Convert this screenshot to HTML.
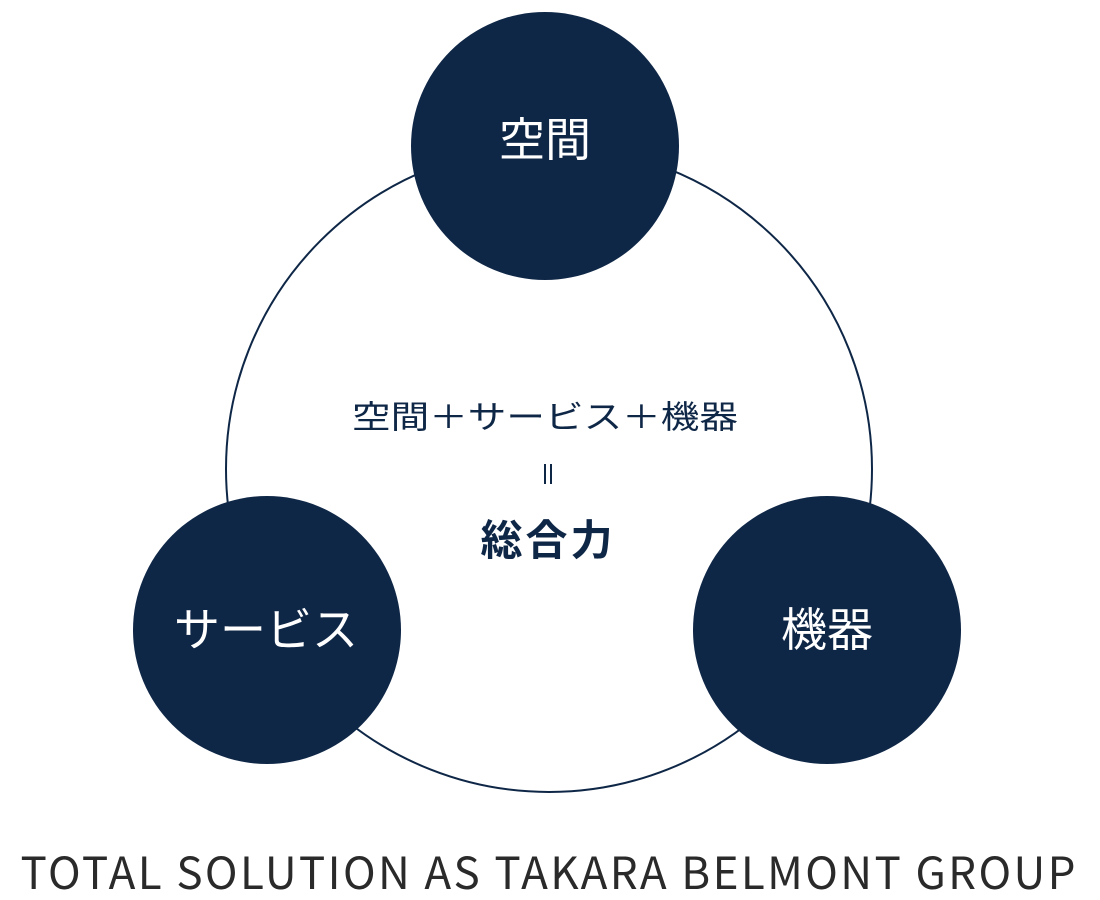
<!DOCTYPE html>
<html><head><meta charset="utf-8"><style>
html,body{margin:0;padding:0;background:#fff;}
svg{display:block;}
</style></head><body>
<svg width="1100" height="900" viewBox="0 0 1100 900" xmlns="http://www.w3.org/2000/svg">
<circle cx="549" cy="469" r="323" fill="none" stroke="#0f2747" stroke-width="2"/>
<circle cx="545" cy="146" r="134" fill="#0f2747"/>
<circle cx="267" cy="630" r="134" fill="#0f2747"/>
<circle cx="827" cy="630" r="134" fill="#0f2747"/>
<g font-family="'Noto Sans CJK JP',sans-serif" text-anchor="middle">
<text x="545" y="156" font-size="46" fill="#fff">空間</text>
<text x="266" y="646" font-size="46" fill="#fff">サービス</text>
<text x="827" y="646" font-size="46" fill="#fff">機器</text>
<text x="545" y="428" font-size="32" fill="#0f2747" textLength="386" lengthAdjust="spacingAndGlyphs">空間＋サービス＋機器</text>
<text x="548" y="555" font-size="42" font-weight="bold" fill="#0f2747" letter-spacing="3">総合力</text>
<text x="548" y="889" font-size="44" fill="#2a2a2a" textLength="1055" lengthAdjust="spacing">TOTAL SOLUTION AS TAKARA BELMONT GROUP</text>
</g>
<line x1="545" y1="464" x2="545" y2="484" stroke="#0f2747" stroke-width="2"/>
<line x1="551" y1="464" x2="551" y2="484" stroke="#0f2747" stroke-width="2"/>
</svg>
</body></html>
